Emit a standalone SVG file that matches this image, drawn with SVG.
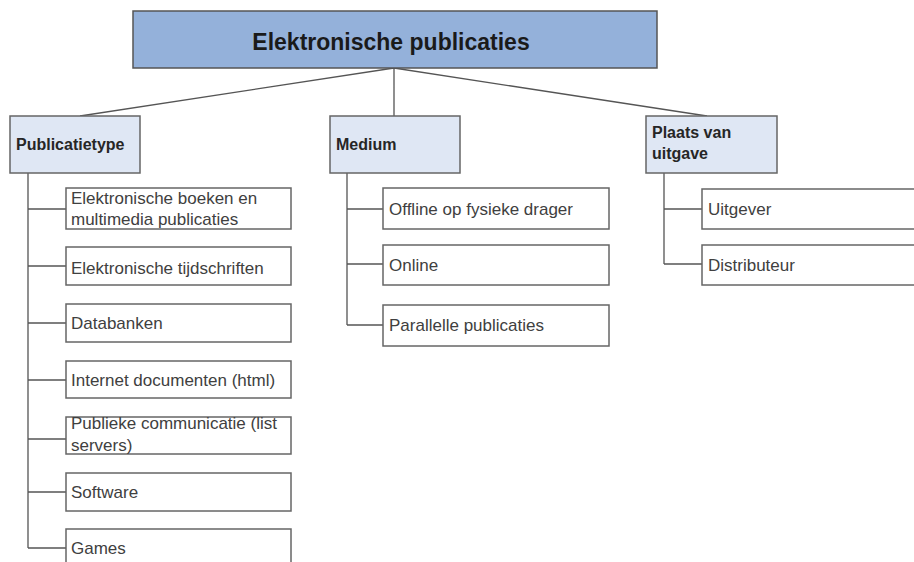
<svg xmlns="http://www.w3.org/2000/svg" width="914" height="562" viewBox="0 0 914 562">
<style>
.root{fill:#94b1da;stroke:#555;stroke-width:1.5}
.cat{fill:#dfe7f4;stroke:#666;stroke-width:1.5}
.leaf{fill:#fff;stroke:#666;stroke-width:1.5}
.t0{font-family:"Liberation Sans",Arial,sans-serif;font-weight:bold;font-size:23px;fill:#1a1a1a}
.t1{font-family:"Liberation Sans",Arial,sans-serif;font-weight:bold;font-size:16px;fill:#262626}
.t2{font-family:"Liberation Sans",Arial,sans-serif;font-size:17px;fill:#404040}
.c{fill:none;stroke:#555;stroke-width:1.3}
</style>
<rect width="914" height="562" fill="#fff"/>
<g id="connectors">
<path class="c" d="M394,68 L80,116 M394,68 L394,116 M394,68 L707,116"/>
<path class="c" d="M28,173 V548 M28,209 H66 M28,266 H66 M28,323 H66 M28,380 H66 M28,439 H66 M28,492 H66 M28,548 H66"/>
<path class="c" d="M347,173 V325 M347,209 H383 M347,264 H383 M347,325 H383"/>
<path class="c" d="M664,173 V264 M664,209 H702 M664,264 H702"/>
</g>
<g id="root"><rect class="root" x="133" y="11" width="524" height="57"/><text class="t0" x="391" y="50" text-anchor="middle">Elektronische publicaties</text></g>
<g id="publicatietype"><rect class="cat" x="10" y="116" width="130" height="57"/><text class="t1" x="16" y="150">Publicatietype</text></g>
<g id="medium"><rect class="cat" x="330" y="116" width="130" height="57"/><text class="t1" x="336" y="150">Medium</text></g>
<g id="plaats"><rect class="cat" x="646" y="116" width="131" height="57"/><text class="t1" x="652" y="138">Plaats van</text><text class="t1" x="652" y="159">uitgave</text></g>
<g id="p1"><rect class="leaf" x="66" y="188" width="225" height="41"/><text class="t2" x="71" y="204">Elektronische boeken en</text><text class="t2" x="71" y="225">multimedia publicaties</text></g>
<g id="p2"><rect class="leaf" x="66" y="247" width="225" height="38"/><text class="t2" x="71" y="274">Elektronische tijdschriften</text></g>
<g id="p3"><rect class="leaf" x="66" y="304" width="225" height="38"/><text class="t2" x="71" y="329">Databanken</text></g>
<g id="p4"><rect class="leaf" x="66" y="361" width="225" height="37"/><text class="t2" x="71" y="386">Internet documenten (html)</text></g>
<g id="p5"><rect class="leaf" x="66" y="417" width="225" height="37"/><text class="t2" x="71" y="429">Publieke communicatie (list</text><text class="t2" x="71" y="451">servers)</text></g>
<g id="p6"><rect class="leaf" x="66" y="473" width="225" height="38"/><text class="t2" x="71" y="498">Software</text></g>
<g id="p7"><rect class="leaf" x="66" y="529" width="225" height="40"/><text class="t2" x="71" y="554">Games</text></g>
<g id="m1"><rect class="leaf" x="383" y="188" width="226" height="41"/><text class="t2" x="389" y="215">Offline op fysieke drager</text></g>
<g id="m2"><rect class="leaf" x="383" y="245" width="226" height="40"/><text class="t2" x="389" y="271">Online</text></g>
<g id="m3"><rect class="leaf" x="383" y="305" width="226" height="41"/><text class="t2" x="389" y="331">Parallelle publicaties</text></g>
<g id="u1"><rect class="leaf" x="702" y="189" width="220" height="40"/><text class="t2" x="708" y="215">Uitgever</text></g>
<g id="u2"><rect class="leaf" x="702" y="245" width="220" height="40"/><text class="t2" x="708" y="271">Distributeur</text></g>
</svg>
